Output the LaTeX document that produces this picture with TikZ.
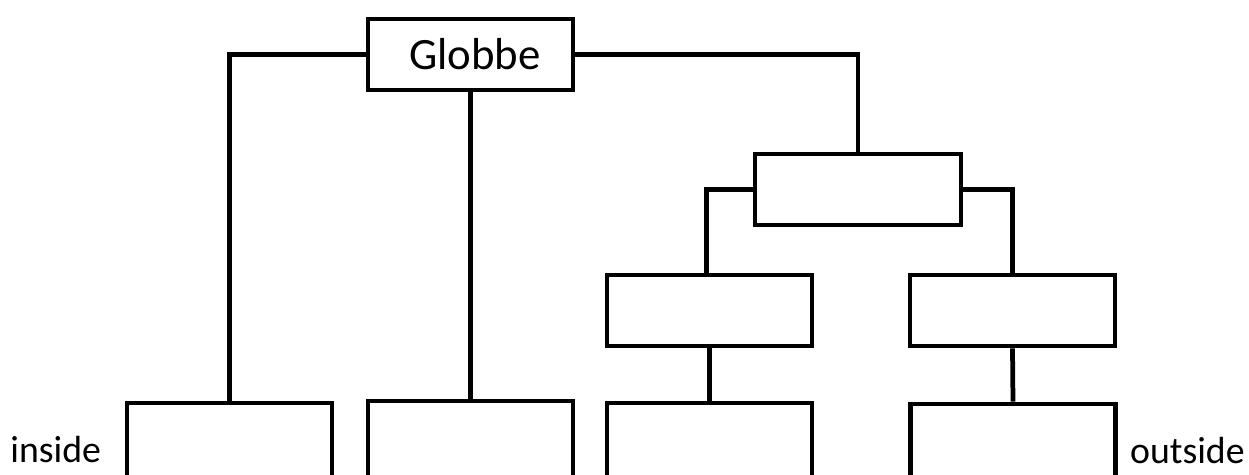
\documentclass[tikz,border=0pt]{standalone}
\usepackage{fontspec}
\setmainfont{Carlito}
\begin{document}
\begin{tikzpicture}[x=0.02cm,y=-0.02cm,
  box/.style={draw,line width=2.7pt,rectangle,inner sep=0pt,minimum width=205*0.02cm,minimum height=71*0.02cm},
  link/.style={line width=2.7pt},
  lbl/.style={font=\fontsize{21.5}{26}\selectfont,inner sep=0pt}]
\useasboundingbox (0,0) rectangle (1249,474);
\clip (0,0) rectangle (1249,474);
% upper levels
\node[box,font=\fontsize{25.5}{30}\selectfont] (g) at (470.5,54.5) {\hspace*{5pt}Globbe};
\node[box,minimum width=206*0.02cm] (m) at (858,189.5) {};
\node[box] (l2) at (709.5,310.5) {};
\node[box] (r2) at (1012.5,310.5) {};
% bottom row, running past the lower edge
\node[box,minimum height=150*0.02cm] (b1) at (229.5,478) {};
\node[box,minimum height=150*0.02cm] (b2) at (470.5,476) {};
\node[box,minimum height=150*0.02cm] (b3) at (709.5,478) {};
\node[box,minimum height=150*0.02cm] (b4) at (1013,479) {};
% connectors
\draw[link] (g.west) -| (b1.north);
\draw[link] (g.south) -- (b2.north);
\draw[link] (g.east) -| (m.north);
\draw[link] (m.west) -| ([xshift=-3*0.02cm]l2.north);
\draw[link] (m.east) -| (r2.north);
\draw[link] (l2.south) -- (b3.north);
\draw[link] (r2.south) -- (b4.north);
% side labels
\node[lbl,anchor=base west] (inside) at (10,462) {inside};
\node[lbl,anchor=base east] (outside) at (1245,463) {outside};
\end{tikzpicture}
\end{document}
